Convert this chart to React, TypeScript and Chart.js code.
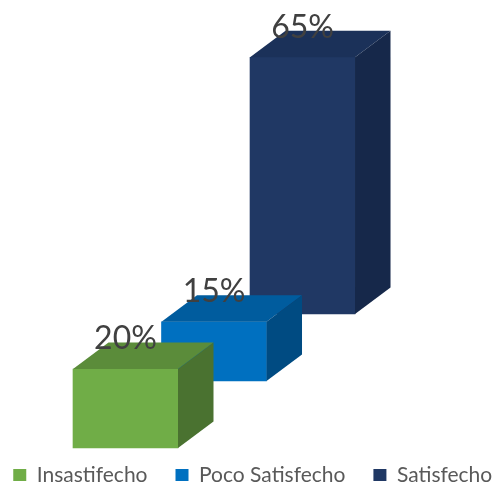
import { useEffect, useRef } from 'react';
import { Chart, registerables } from 'chart.js';

Chart.register(...registerables);

const CATEGORIES = ['Insastifecho', 'Poco Satisfecho', 'Satisfecho'];
const VALUES = [20, 15, 65];
const FRONT_COLORS = ['#70AD47', '#0070C0', '#203864'];
const TOP_COLORS = ['#5B8C3A', '#005C9E', '#1B3159'];
const SIDE_COLORS = ['#4A7230', '#004B82', '#16284A'];
// each series sits on its own (hidden) value axis, shifted to mimic depth
const Y_RANGES = [
  [2.91, 113.42],
  [-14.05, 96.46],
  [-31.01, 79.49],
];
const DEPTH_X = 35.5;
const DEPTH_Y = -26.5;

const box3d = {
  id: 'box3d',
  afterDatasetDraw(chart: any, args: any) {
    const ctx = chart.ctx;
    const i = args.index;
    args.meta.data.forEach((el: any) => {
      const { x, y, base, width } = el.getProps(['x', 'y', 'base', 'width'], true);
      if (y == null || isNaN(y)) return;
      const l = x - width / 2;
      const r = x + width / 2;
      ctx.save();
      ctx.fillStyle = TOP_COLORS[i];
      ctx.beginPath();
      ctx.moveTo(l, y);
      ctx.lineTo(l + DEPTH_X, y + DEPTH_Y);
      ctx.lineTo(r + DEPTH_X, y + DEPTH_Y);
      ctx.lineTo(r, y);
      ctx.closePath();
      ctx.fill();
      ctx.fillStyle = SIDE_COLORS[i];
      ctx.beginPath();
      ctx.moveTo(r, y);
      ctx.lineTo(r + DEPTH_X, y + DEPTH_Y);
      ctx.lineTo(r + DEPTH_X, base + DEPTH_Y);
      ctx.lineTo(r, base);
      ctx.closePath();
      ctx.fill();
      ctx.restore();
    });
  },
  afterDraw(chart: any) {
    const ctx = chart.ctx;
    ctx.save();
    ctx.font = '32px Lato';
    ctx.fillStyle = '#404040';
    ctx.textAlign = 'center';
    ctx.textBaseline = 'alphabetic';
    chart.data.datasets.forEach((ds: any, i: number) => {
      const meta = chart.getDatasetMeta(i);
      meta.data.forEach((el: any, j: number) => {
        const { x, y } = el.getProps(['x', 'y'], true);
        const v = ds.data[j].y;
        ctx.fillText(v + '%', x, y - 19.5);
      });
    });
    ctx.restore();
  },
};

export default function App() {
  const ref = useRef<HTMLCanvasElement>(null);
  useEffect(() => {
    document.body.style.margin = '0';
    const scales: any = {
      x: { type: 'linear', min: -1.418, max: 4.186, offset: false, display: false },
    };
    Y_RANGES.forEach((r, i) => {
      scales['y' + i] = { type: 'linear', min: r[0], max: r[1], display: false };
    });
    const chart = new Chart(ref.current!, {
      type: 'bar',
      data: {
        datasets: CATEGORIES.map((c, i) => ({
          label: c,
          data: [{ x: i, y: VALUES[i] }],
          yAxisID: 'y' + i,
          backgroundColor: FRONT_COLORS[i],
          borderWidth: 0,
          barThickness: 105,
          grouped: false,
          clip: false as any,
        })),
      },
      options: {
        animation: false,
        responsive: false,
        events: [],
        layout: { padding: { left: -17.25, right: -26.75, top: 0, bottom: 0 } },
        scales,
        plugins: {
          tooltip: { enabled: false },
          legend: {
            position: 'bottom',
            maxHeight: 46.5,
            labels: {
              boxWidth: 13,
              boxHeight: 12,
              padding: 28,
              color: '#595959',
              font: { family: 'Lato', size: 21 },
            },
          },
        },
      } as any,
      plugins: [box3d],
    });
    return () => chart.destroy();
  }, []);
  return (
    <div style={{ width: 496, height: 483 }}>
      <canvas ref={ref} width={496} height={483} />
    </div>
  );
}
